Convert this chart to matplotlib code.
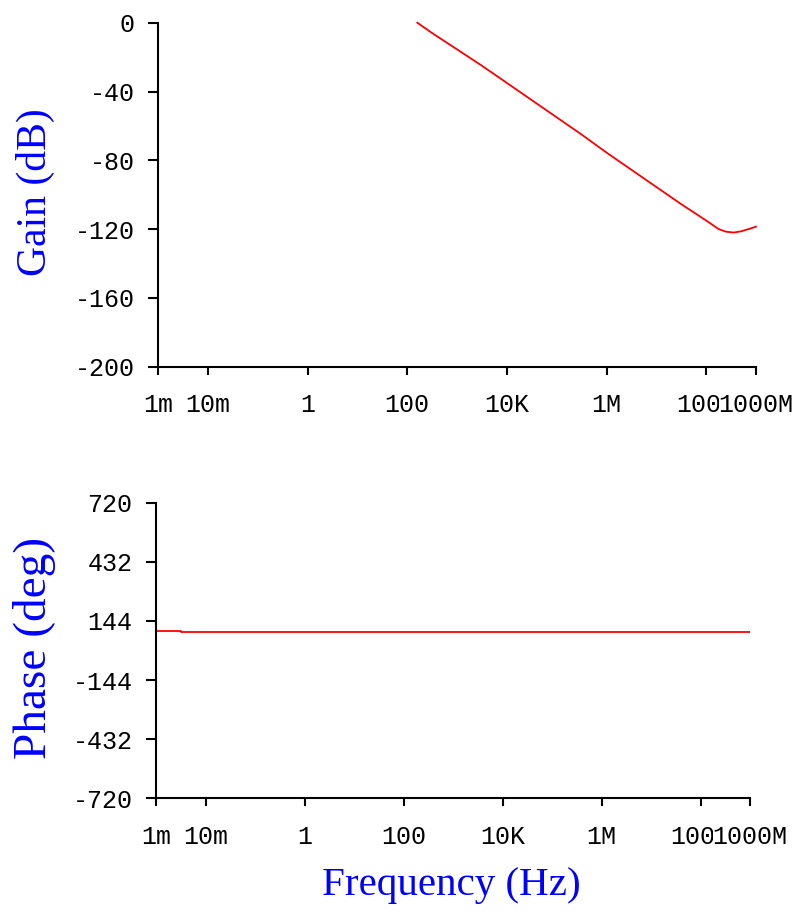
import matplotlib
matplotlib.use("Agg")
import matplotlib.pyplot as plt
import numpy as np

# ---- data ----
freq_ticks = [1e-3, 1e-2, 1, 1e2, 1e4, 1e6, 1e8, 1e9]
freq_tick_labels = ["1m", "10m", "1", "100", "10K", "1M", "100M", "1000M"]

gain_ticks = [0, -40, -80, -120, -160, -200]
gain_tick_labels = ["0", "-40", "-80", "-120", "-160", "-200"]

phase_ticks = [720, 432, 144, -144, -432, -720]
phase_tick_labels = ["720", "432", "144", "-144", "-432", "-720"]

gain_freq = [160, 316, 1e3, 3.16e3, 1e4, 3.16e4, 1e5, 3.16e5, 1e6, 3.16e6,
             1e7, 3.16e7, 1e8, 1.78e8, 2.5e8, 3.55e8, 5e8, 7.1e8, 1e9]
gain_db = [0, -6, -15.5, -25, -35, -45, -55, -65, -75.5, -85.5,
           -95.5, -105.5, -115, -120, -121.5, -122, -121.3, -120, -118.6]

phase_freq = [1e-3, 3.16e-3, 1e9]
phase_deg = [95, 88, 88]

# ---- figure ----
W, H = 801, 914
fig = plt.figure(figsize=(W / 100, H / 100), dpi=100)

tick_font = dict(family="Liberation Mono", size=18)
label_font = "Liberation Serif"
blue = "#0000ff"


def px_axes(l, r, t, b):
    return fig.add_axes([l / W, 1 - b / H, (r - l) / W, (b - t) / H])


def style(ax, yticks, ylabels, ylim):
    ax.set_xscale("log")
    ax.set_xlim(1e-3, 1e9)
    ax.set_ylim(*ylim)
    ax.minorticks_off()
    for s in ("top", "right"):
        ax.spines[s].set_visible(False)
    for s in ("left", "bottom"):
        ax.spines[s].set_linewidth(1.5)
    ax.set_xticks(freq_ticks)
    ax.set_xticklabels(freq_tick_labels, fontdict=tick_font)
    ax.set_yticks(yticks)
    ax.set_yticklabels(ylabels, fontdict=tick_font)
    ax.tick_params(axis="x", direction="out", length=6, width=1.5, pad=13)
    ax.tick_params(axis="y", direction="out", length=7, width=1.5, pad=10)
    for lab in ax.get_xticklabels():
        lab.set_bbox(dict(facecolor="white", edgecolor="none", pad=0))


ax1 = px_axes(158, 756, 22.7, 366.7)
style(ax1, gain_ticks, gain_tick_labels, (-200, 0))
ax1.plot(gain_freq, gain_db, color="#ff0000", lw=1.3, clip_on=False)

ax2 = px_axes(156, 750, 502.7, 798.3)
style(ax2, phase_ticks, phase_tick_labels, (-720, 720))
ax2.plot(phase_freq, phase_deg, color="#ff0000", lw=1.3, drawstyle="steps-post")

fig.text(35 / W, 1 - 192 / H, "Gain (dB)", rotation=90, ha="center", va="center",
         color=blue, family=label_font, size=30)
fig.text(35 / W, 1 - 648 / H, "Phase (deg)", rotation=90, ha="center", va="center",
         color=blue, family=label_font, size=34)
fig.text(451 / W, 1 - 886 / H, "Frequency (Hz)", ha="center", va="center",
         color=blue, family=label_font, size=29.5)

fig.savefig("out.png", dpi=100)
